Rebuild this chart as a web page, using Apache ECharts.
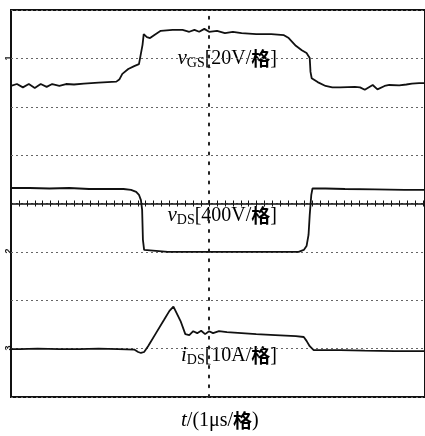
<!DOCTYPE html>
<html>
<head>
<meta charset="utf-8">
<script src="https://cdn.jsdelivr.net/npm/echarts@6/dist/echarts.min.js"></script>
<style>html,body{margin:0;padding:0;background:#fff;overflow:hidden;}#c{width:425px;height:436px;}</style>
</head>
<body>
<div id="c"></div>
<script>
// time in divisions (1 µs/div) relative to centre, value in screen divisions
const vgsData = [[-5.00,2.43],[-4.85,2.47],[-4.70,2.40],[-4.55,2.47],[-4.40,2.39],[-4.25,2.47],[-4.10,2.41],[-3.96,2.47],[-3.78,2.43],[-3.61,2.47],[-3.41,2.46],[-3.16,2.48],[-2.79,2.50],[-2.34,2.52],[-2.26,2.57],[-2.19,2.68],[-2.04,2.78],[-1.89,2.84],[-1.77,2.88],[-1.72,2.91],[-1.68,3.28],[-1.65,3.50],[-1.57,3.44],[-1.49,3.42],[-1.39,3.48],[-1.22,3.57],[-0.92,3.59],[-0.67,3.59],[-0.50,3.55],[-0.37,3.59],[-0.25,3.55],[-0.12,3.61],[0,3.55],[0.20,3.57],[0.40,3.52],[0.60,3.55],[0.82,3.52],[1.19,3.50],[1.57,3.50],[1.89,3.48],[2.01,3.42],[2.19,3.26],[2.34,3.17],[2.46,3.11],[2.54,3.01],[2.56,2.72],[2.59,2.59],[2.74,2.51],[2.94,2.43],[3.11,2.40],[3.31,2.40],[3.68,2.41],[3.81,2.40],[3.93,2.35],[4.13,2.45],[4.25,2.36],[4.43,2.43],[4.55,2.45],[4.80,2.44],[4.98,2.46],[5.12,2.48],[5.30,2.49],[5.45,2.49]];
const vdsData = [[-5.00,0.32],[-4.53,0.32],[-4.03,0.31],[-3.53,0.32],[-3.03,0.30],[-2.54,0.30],[-2.16,0.30],[-1.97,0.28],[-1.84,0.24],[-1.77,0.18],[-1.72,0.07],[-1.69,-0.13],[-1.67,-0.75],[-1.64,-0.96],[-1.59,-1.00],[-1.04,-1.00],[-0.30,-1.00],[0.45,-1.00],[1.19,-1.00],[1.94,-1.00],[2.26,-1.00],[2.39,-0.96],[2.46,-0.88],[2.51,-0.65],[2.54,-0.24],[2.58,0.18],[2.61,0.31],[2.94,0.31],[3.43,0.30],[4.18,0.29],[4.93,0.28],[5.45,0.28]];
const idsData = [[-5.00,-3.01],[-4.78,-3.01],[-4.33,-3.00],[-4.28,-2.99],[-3.78,-3.01],[-3.28,-3.01],[-2.79,-3.00],[-2.29,-3.01],[-1.89,-3.02],[-1.79,-3.07],[-1.72,-3.09],[-1.64,-3.07],[-1.54,-2.95],[-1.34,-2.68],[-1.14,-2.41],[-1.00,-2.22],[-0.90,-2.13],[-0.85,-2.15],[-0.72,-2.43],[-0.60,-2.70],[-0.50,-2.72],[-0.40,-2.64],[-0.30,-2.68],[-0.20,-2.63],[-0.10,-2.70],[0,-2.64],[0.10,-2.68],[0.25,-2.64],[0.45,-2.66],[0.82,-2.68],[1.19,-2.70],[1.67,-2.72],[2.19,-2.74],[2.39,-2.76],[2.46,-2.84],[2.54,-2.95],[2.64,-3.03],[3.31,-3.03],[3.93,-3.04],[4.68,-3.05],[5.45,-3.05]];
const traceLabels = ['GS[20V/', 'DS[400V/', 'DS[10A/'];
const xTitle = ['t', '/(1μs/', '格', ')'];
const channelMarks = ['1', '2', '3'];

const chart = echarts.init(document.getElementById('c'));
const serif = 'Liberation Serif';
const rich = {
  v: {fontFamily: serif, fontStyle: 'italic', fontSize: 21, color: '#111'},
  s: {fontFamily: serif, fontSize: 14, color: '#111', padding: [9, 0, 0, 0]},
  n: {fontFamily: serif, fontSize: 20, color: '#111'},
  c: {fontFamily: 'Noto Sans CJK SC', fontWeight: 'bold', fontSize: 19, color: '#111'}
};
function lbl(letter, body, y) {
  return {type: 'text', right: 148, top: y, style: {
    text: '{v|' + letter + '}{s|' + body.split('[')[0] + '}{n|[' + body.split('[')[1] + '}{c|格}{n|]}',
    rich: rich}};
}
const lineStyle = {color: '#111', width: 1.8};
const tickAxis = {
  type: 'value', min: -5, max: 5.45, interval: 1,
  axisLine: {onZero: true, lineStyle: {color: '#111', width: 1.5}},
  axisTick: {show: true, length: 3, lineStyle: {color: '#111'}},
  minorTick: {show: true, splitNumber: 5, length: 3, lineStyle: {color: '#111'}},
  axisLabel: {show: false}, splitLine: {show: false}
};
chart.setOption({
  animation: false,
  backgroundColor: '#fff',
  grid: [
    {left: 11, right: -6, top: 10, bottom: 39, show: true, borderColor: '#111', borderWidth: 2},
    {left: 11, right: -6, top: 10, bottom: 232.5, show: false}
  ],
  xAxis: [
    Object.assign({gridIndex: 0}, tickAxis),
    Object.assign({}, tickAxis, {gridIndex: 1, position: 'bottom',
      axisLine: {show: false},
      axisTick: {show: true, inside: true, length: 3, lineStyle: {color: '#111'}},
      minorTick: {show: true, splitNumber: 5, length: 3, lineStyle: {color: '#111'}}})
  ],
  yAxis: [{
    gridIndex: 0, type: 'value', min: -4, max: 4, interval: 1,
    axisLine: {onZero: true, lineStyle: {color: '#222', width: 2, type: [2, 7.7]}},
    axisTick: {show: false}, axisLabel: {show: false},
    splitLine: {show: true, lineStyle: {color: '#666', width: 1, type: [2, 3]}}
  }, {
    gridIndex: 1, type: 'value', min: 0, max: 4, show: false
  }],
  series: [
    {type: 'line', data: vgsData, showSymbol: false, lineStyle: lineStyle},
    {type: 'line', data: vdsData, showSymbol: false, lineStyle: lineStyle},
    {type: 'line', data: idsData, showSymbol: false, lineStyle: lineStyle}
  ],
  graphic: [
    lbl('v', traceLabels[0], 48),
    lbl('v', traceLabels[1], 205),
    lbl('i', traceLabels[2], 345),
    {type: 'text', left: 181, top: 410, style: {
      text: '{v|' + xTitle[0] + '}{n|' + xTitle[1] + '}{c|' + xTitle[2] + '}{n|' + xTitle[3] + '}',
      rich: rich}},
    {type: 'text', x: 9, y: 58, rotation: Math.PI / 2, style: {text: channelMarks[0], font: 'bold 9px sans-serif', fill: '#111', align: 'center', verticalAlign: 'middle'}},
    {type: 'text', x: 9, y: 251, rotation: Math.PI / 2, style: {text: channelMarks[1], font: 'bold 9px sans-serif', fill: '#111', align: 'center', verticalAlign: 'middle'}},
    {type: 'text', x: 9, y: 348, rotation: Math.PI / 2, style: {text: channelMarks[2], font: 'bold 9px sans-serif', fill: '#111', align: 'center', verticalAlign: 'middle'}}
  ]
});
</script>
</body>
</html>
